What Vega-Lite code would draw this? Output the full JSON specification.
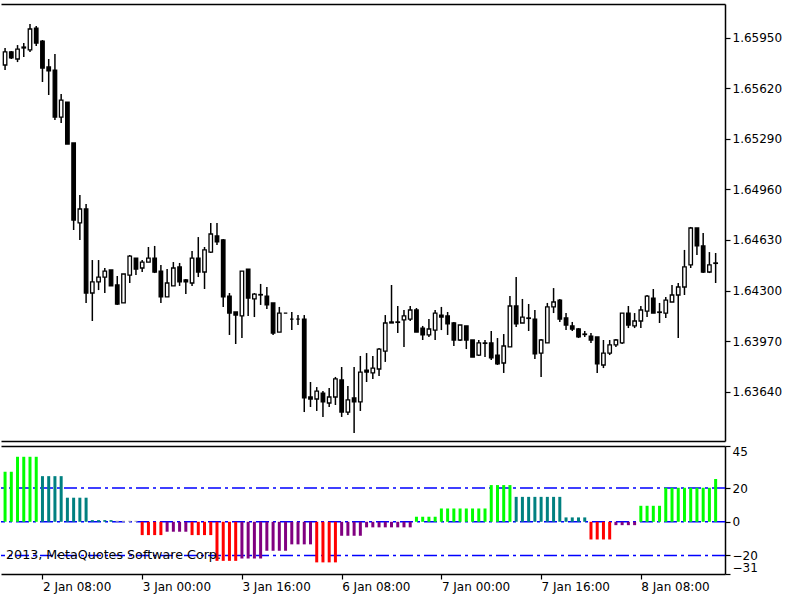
{
"$schema": "https://vega.github.io/schema/vega-lite/v6.json",
"padding": {"left": 0, "top": 4, "right": 5, "bottom": 4},
"background": "white",
"spacing": 4,
"config": {"view": {"stroke": null}, "font": "DejaVu Sans", "axis": {"grid": false, "title": null, "labelFont": "DejaVu Sans", "labelFontSize": 12, "labelColor": "#000", "tickColor": "#000", "domainColor": "#000", "domainWidth": 1.5, "tickWidth": 1.2, "labelOverlap": false}},
"datasets": {
"candles": [
{"i":-6,"o":1.65772,"h":1.65883,"l":1.65739,"c":1.65857},
{"i":-5,"o":1.65857,"h":1.65863,"l":1.65811,"c":1.65818},
{"i":-4,"o":1.65811,"h":1.65902,"l":1.65791,"c":1.65876},
{"i":-3,"o":1.65883,"h":1.65915,"l":1.65824,"c":1.65889},
{"i":-2,"o":1.65870,"h":1.66039,"l":1.65857,"c":1.66007},
{"i":-1,"o":1.66013,"h":1.66026,"l":1.65896,"c":1.65915},
{"i":0,"o":1.65928,"h":1.65935,"l":1.65661,"c":1.65752},
{"i":1,"o":1.65759,"h":1.65811,"l":1.65576,"c":1.65733},
{"i":2,"o":1.65739,"h":1.65844,"l":1.65413,"c":1.65432},
{"i":3,"o":1.65432,"h":1.65583,"l":1.65393,"c":1.65543},
{"i":4,"o":1.65530,"h":1.65530,"l":1.65256,"c":1.65256},
{"i":5,"o":1.65263,"h":1.65263,"l":1.64695,"c":1.64760},
{"i":6,"o":1.64741,"h":1.64923,"l":1.64630,"c":1.64832},
{"i":7,"o":1.64832,"h":1.64865,"l":1.64219,"c":1.64284},
{"i":8,"o":1.64284,"h":1.64499,"l":1.64101,"c":1.64356},
{"i":9,"o":1.64356,"h":1.64499,"l":1.64303,"c":1.64388},
{"i":10,"o":1.64388,"h":1.64447,"l":1.64284,"c":1.64427},
{"i":11,"o":1.64434,"h":1.64434,"l":1.64330,"c":1.64330},
{"i":12,"o":1.64336,"h":1.64395,"l":1.64206,"c":1.64212},
{"i":13,"o":1.64219,"h":1.64408,"l":1.64219,"c":1.64408},
{"i":14,"o":1.64401,"h":1.64532,"l":1.64349,"c":1.64525},
{"i":15,"o":1.64512,"h":1.64512,"l":1.64401,"c":1.64440},
{"i":16,"o":1.64447,"h":1.64499,"l":1.64421,"c":1.64486},
{"i":17,"o":1.64486,"h":1.64584,"l":1.64486,"c":1.64512},
{"i":18,"o":1.64512,"h":1.64591,"l":1.64414,"c":1.64421},
{"i":19,"o":1.64427,"h":1.64467,"l":1.64219,"c":1.64258},
{"i":20,"o":1.64258,"h":1.64440,"l":1.64258,"c":1.64349},
{"i":21,"o":1.64330,"h":1.64486,"l":1.64330,"c":1.64447},
{"i":22,"o":1.64454,"h":1.64480,"l":1.64330,"c":1.64356},
{"i":23,"o":1.64369,"h":1.64375,"l":1.64277,"c":1.64356},
{"i":24,"o":1.64349,"h":1.64558,"l":1.64330,"c":1.64512},
{"i":25,"o":1.64512,"h":1.64649,"l":1.64388,"c":1.64421},
{"i":26,"o":1.64421,"h":1.64584,"l":1.64310,"c":1.64565},
{"i":27,"o":1.64551,"h":1.64741,"l":1.64545,"c":1.64669},
{"i":28,"o":1.64656,"h":1.64741,"l":1.64597,"c":1.64617},
{"i":29,"o":1.64630,"h":1.64636,"l":1.64193,"c":1.64258},
{"i":30,"o":1.64264,"h":1.64284,"l":1.64010,"c":1.64153},
{"i":31,"o":1.64160,"h":1.64160,"l":1.63951,"c":1.64140},
{"i":32,"o":1.64134,"h":1.64427,"l":1.63990,"c":1.64427},
{"i":33,"o":1.64440,"h":1.64440,"l":1.64134,"c":1.64251},
{"i":34,"o":1.64245,"h":1.64284,"l":1.64127,"c":1.64277},
{"i":35,"o":1.64271,"h":1.64343,"l":1.64206,"c":1.64274},
{"i":36,"o":1.64264,"h":1.64323,"l":1.64180,"c":1.64206},
{"i":37,"o":1.64219,"h":1.64219,"l":1.64010,"c":1.64023},
{"i":38,"o":1.64029,"h":1.64193,"l":1.64029,"c":1.64153},
{"i":39,"o":1.64153,"h":1.64153,"l":1.64153,"c":1.64153},
{"i":40,"o":1.64114,"h":1.64160,"l":1.64042,"c":1.64114},
{"i":41,"o":1.64114,"h":1.64140,"l":1.64075,"c":1.64114},
{"i":42,"o":1.64114,"h":1.64140,"l":1.63507,"c":1.63599},
{"i":43,"o":1.63605,"h":1.63703,"l":1.63540,"c":1.63592},
{"i":44,"o":1.63592,"h":1.63670,"l":1.63514,"c":1.63644},
{"i":45,"o":1.63631,"h":1.63644,"l":1.63475,"c":1.63573},
{"i":46,"o":1.63566,"h":1.63664,"l":1.63540,"c":1.63605},
{"i":47,"o":1.63605,"h":1.63736,"l":1.63553,"c":1.63723},
{"i":48,"o":1.63716,"h":1.63801,"l":1.63475,"c":1.63507},
{"i":49,"o":1.63507,"h":1.63677,"l":1.63488,"c":1.63586},
{"i":50,"o":1.63599,"h":1.63801,"l":1.63370,"c":1.63573},
{"i":51,"o":1.63573,"h":1.63873,"l":1.63514,"c":1.63768},
{"i":52,"o":1.63781,"h":1.63892,"l":1.63703,"c":1.63768},
{"i":53,"o":1.63762,"h":1.63873,"l":1.63723,"c":1.63794},
{"i":54,"o":1.63788,"h":1.63925,"l":1.63742,"c":1.63918},
{"i":55,"o":1.63905,"h":1.64140,"l":1.63834,"c":1.64088},
{"i":56,"o":1.64095,"h":1.64336,"l":1.64088,"c":1.64088},
{"i":57,"o":1.64095,"h":1.64199,"l":1.64023,"c":1.64092},
{"i":58,"o":1.64108,"h":1.64173,"l":1.63932,"c":1.64134},
{"i":59,"o":1.64114,"h":1.64199,"l":1.64101,"c":1.64173},
{"i":60,"o":1.64173,"h":1.64186,"l":1.64029,"c":1.64029},
{"i":61,"o":1.64055,"h":1.64069,"l":1.63977,"c":1.64010},
{"i":62,"o":1.64010,"h":1.64114,"l":1.63997,"c":1.64049},
{"i":63,"o":1.64042,"h":1.64173,"l":1.63977,"c":1.64153},
{"i":64,"o":1.64140,"h":1.64193,"l":1.64042,"c":1.64127},
{"i":65,"o":1.64134,"h":1.64160,"l":1.64010,"c":1.64082},
{"i":66,"o":1.64088,"h":1.64095,"l":1.63938,"c":1.63977},
{"i":67,"o":1.63977,"h":1.64075,"l":1.63971,"c":1.64075},
{"i":68,"o":1.64069,"h":1.64069,"l":1.63918,"c":1.63977},
{"i":69,"o":1.63977,"h":1.63977,"l":1.63866,"c":1.63866},
{"i":70,"o":1.63879,"h":1.63977,"l":1.63873,"c":1.63958},
{"i":71,"o":1.63958,"h":1.63977,"l":1.63866,"c":1.63955},
{"i":72,"o":1.63958,"h":1.64036,"l":1.63847,"c":1.63860},
{"i":73,"o":1.63879,"h":1.63990,"l":1.63814,"c":1.63821},
{"i":74,"o":1.63827,"h":1.64016,"l":1.63762,"c":1.63938},
{"i":75,"o":1.63932,"h":1.64264,"l":1.63932,"c":1.64199},
{"i":76,"o":1.64199,"h":1.64388,"l":1.64062,"c":1.64082},
{"i":77,"o":1.64088,"h":1.64245,"l":1.64088,"c":1.64127},
{"i":78,"o":1.64121,"h":1.64212,"l":1.64036,"c":1.64118},
{"i":79,"o":1.64114,"h":1.64173,"l":1.63853,"c":1.63886},
{"i":80,"o":1.63892,"h":1.63984,"l":1.63736,"c":1.63977},
{"i":81,"o":1.63958,"h":1.64219,"l":1.63958,"c":1.64193},
{"i":82,"o":1.64193,"h":1.64316,"l":1.64153,"c":1.64225},
{"i":83,"o":1.64238,"h":1.64245,"l":1.64095,"c":1.64114},
{"i":84,"o":1.64121,"h":1.64153,"l":1.64042,"c":1.64075},
{"i":85,"o":1.64069,"h":1.64095,"l":1.64036,"c":1.64049},
{"i":86,"o":1.64049,"h":1.64055,"l":1.63990,"c":1.63997},
{"i":87,"o":1.64016,"h":1.64036,"l":1.63997,"c":1.64013},
{"i":88,"o":1.64003,"h":1.64023,"l":1.63958,"c":1.63977},
{"i":89,"o":1.63997,"h":1.63997,"l":1.63762,"c":1.63821},
{"i":90,"o":1.63814,"h":1.63977,"l":1.63794,"c":1.63892},
{"i":91,"o":1.63892,"h":1.63977,"l":1.63879,"c":1.63945},
{"i":92,"o":1.63945,"h":1.63984,"l":1.63932,"c":1.63977},
{"i":93,"o":1.63958,"h":1.64153,"l":1.63951,"c":1.64153},
{"i":94,"o":1.64153,"h":1.64199,"l":1.64055,"c":1.64075},
{"i":95,"o":1.64069,"h":1.64153,"l":1.64055,"c":1.64101},
{"i":96,"o":1.64101,"h":1.64199,"l":1.64055,"c":1.64173},
{"i":97,"o":1.64166,"h":1.64271,"l":1.64127,"c":1.64264},
{"i":98,"o":1.64251,"h":1.64310,"l":1.64153,"c":1.64153},
{"i":99,"o":1.64160,"h":1.64219,"l":1.64088,"c":1.64157},
{"i":100,"o":1.64153,"h":1.64258,"l":1.64121,"c":1.64238},
{"i":101,"o":1.64225,"h":1.64336,"l":1.64225,"c":1.64271},
{"i":102,"o":1.64271,"h":1.64349,"l":1.63990,"c":1.64323},
{"i":103,"o":1.64323,"h":1.64565,"l":1.64271,"c":1.64454},
{"i":104,"o":1.64467,"h":1.64715,"l":1.64447,"c":1.64708},
{"i":105,"o":1.64708,"h":1.64708,"l":1.64532,"c":1.64591},
{"i":106,"o":1.64591,"h":1.64675,"l":1.64414,"c":1.64421},
{"i":107,"o":1.64421,"h":1.64551,"l":1.64414,"c":1.64467},
{"i":108,"o":1.64480,"h":1.64545,"l":1.64349,"c":1.64477}
],
"osc": [
{"i":-6,"v":29.7,"col":"green"},{"i":-5,"v":29.7,"col":"green"},
{"i":-4,"v":38.6,"col":"green"},{"i":-3,"v":38.6,"col":"green"},{"i":-2,"v":38.6,"col":"green"},{"i":-1,"v":38.6,"col":"green"},
{"i":0,"v":27.1,"col":"teal"},{"i":1,"v":27.1,"col":"teal"},{"i":2,"v":27.1,"col":"teal"},{"i":3,"v":27.1,"col":"teal"},
{"i":4,"v":14.3,"col":"teal"},{"i":5,"v":14.3,"col":"teal"},{"i":6,"v":14.3,"col":"teal"},{"i":7,"v":14.3,"col":"teal"},
{"i":8,"v":1.0,"col":"teal"},{"i":9,"v":1.0,"col":"teal"},{"i":10,"v":1.0,"col":"teal"},{"i":11,"v":1.0,"col":"teal"},
{"i":12,"v":0.6,"col":"gray"},{"i":13,"v":0.6,"col":"gray"},{"i":14,"v":0.6,"col":"gray"},{"i":15,"v":0.6,"col":"gray"},
{"i":16,"v":-7.9,"col":"red"},{"i":17,"v":-7.9,"col":"red"},{"i":18,"v":-7.9,"col":"red"},{"i":19,"v":-7.9,"col":"red"},
{"i":20,"v":-5.9,"col":"purple"},{"i":21,"v":-5.9,"col":"purple"},{"i":22,"v":-5.9,"col":"purple"},{"i":23,"v":-5.9,"col":"purple"},
{"i":24,"v":-7.9,"col":"red"},{"i":25,"v":-7.9,"col":"red"},{"i":26,"v":-7.9,"col":"red"},{"i":27,"v":-7.9,"col":"red"},
{"i":28,"v":-23.2,"col":"red"},{"i":29,"v":-23.2,"col":"red"},{"i":30,"v":-23.2,"col":"red"},{"i":31,"v":-23.2,"col":"red"},
{"i":32,"v":-21.8,"col":"purple"},{"i":33,"v":-21.8,"col":"purple"},{"i":34,"v":-21.8,"col":"purple"},{"i":35,"v":-21.8,"col":"purple"},
{"i":36,"v":-17.2,"col":"purple"},{"i":37,"v":-17.2,"col":"purple"},{"i":38,"v":-17.2,"col":"purple"},{"i":39,"v":-17.2,"col":"purple"},
{"i":40,"v":-13.4,"col":"purple"},{"i":41,"v":-13.4,"col":"purple"},{"i":42,"v":-13.4,"col":"purple"},{"i":43,"v":-13.4,"col":"purple"},
{"i":44,"v":-24.1,"col":"red"},{"i":45,"v":-24.1,"col":"red"},{"i":46,"v":-24.1,"col":"red"},{"i":47,"v":-24.1,"col":"red"},
{"i":48,"v":-8.3,"col":"purple"},{"i":49,"v":-8.3,"col":"purple"},{"i":50,"v":-8.3,"col":"purple"},{"i":51,"v":-8.3,"col":"purple"},
{"i":52,"v":-3.3,"col":"purple"},{"i":53,"v":-3.3,"col":"purple"},{"i":54,"v":-3.3,"col":"purple"},{"i":55,"v":-3.3,"col":"purple"},
{"i":56,"v":-3.3,"col":"purple"},{"i":57,"v":-3.3,"col":"purple"},{"i":58,"v":-3.3,"col":"purple"},{"i":59,"v":-3.3,"col":"purple"},
{"i":60,"v":3.0,"col":"green"},{"i":61,"v":3.0,"col":"green"},{"i":62,"v":3.0,"col":"green"},{"i":63,"v":3.0,"col":"green"},
{"i":64,"v":7.9,"col":"green"},{"i":65,"v":7.9,"col":"green"},{"i":66,"v":7.9,"col":"green"},{"i":67,"v":7.9,"col":"green"},
{"i":68,"v":7.9,"col":"green"},{"i":69,"v":7.9,"col":"green"},{"i":70,"v":7.9,"col":"green"},{"i":71,"v":7.9,"col":"green"},
{"i":72,"v":21.8,"col":"green"},{"i":73,"v":21.8,"col":"green"},{"i":74,"v":21.8,"col":"green"},{"i":75,"v":21.8,"col":"green"},
{"i":76,"v":14.8,"col":"teal"},{"i":77,"v":14.8,"col":"teal"},{"i":78,"v":14.8,"col":"teal"},{"i":79,"v":14.8,"col":"teal"},
{"i":80,"v":14.8,"col":"teal"},{"i":81,"v":14.8,"col":"teal"},{"i":82,"v":14.8,"col":"teal"},{"i":83,"v":14.8,"col":"teal"},
{"i":84,"v":2.6,"col":"teal"},{"i":85,"v":2.6,"col":"teal"},{"i":86,"v":2.6,"col":"teal"},{"i":87,"v":2.6,"col":"teal"},
{"i":88,"v":-10.5,"col":"red"},{"i":89,"v":-10.5,"col":"red"},{"i":90,"v":-10.5,"col":"red"},{"i":91,"v":-10.5,"col":"red"},
{"i":92,"v":-2.0,"col":"purple"},{"i":93,"v":-2.0,"col":"purple"},{"i":94,"v":-2.0,"col":"purple"},{"i":95,"v":-2.0,"col":"purple"},
{"i":96,"v":9.5,"col":"green"},{"i":97,"v":9.5,"col":"green"},{"i":98,"v":9.5,"col":"green"},{"i":99,"v":9.5,"col":"green"},
{"i":100,"v":20.2,"col":"green"},{"i":101,"v":20.2,"col":"green"},{"i":102,"v":20.2,"col":"green"},{"i":103,"v":20.2,"col":"green"},
{"i":104,"v":20.2,"col":"green"},{"i":105,"v":20.2,"col":"green"},{"i":106,"v":20.2,"col":"green"},{"i":107,"v":20.2,"col":"green"},
{"i":108,"v":25.4,"col":"green"}
],
"levels": [{"lv": 20}, {"lv": 0}, {"lv": -20}]
},
"vconcat": [
{
"width": 724, "height": 437,
"data": {"name": "candles"},
"resolve": {"axis": {"x": "independent"}},
"layer": [
{"mark": {"type": "rule", "color": "#000", "strokeWidth": 1.5, "clip": true},
 "encoding": {
  "x": {"field": "i", "type": "quantitative", "scale": {"domain": [-5.85, 108.7], "nice": false, "zero": false}, "axis": {"orient": "top", "labels": false, "ticks": false}},
  "y": {"field": "l", "type": "quantitative", "scale": {"domain": [1.63318, 1.6617], "nice": false, "zero": false},
        "axis": {"orient": "right", "values": [1.6595, 1.6562, 1.6529, 1.6496, 1.6463, 1.643, 1.6397, 1.6364], "format": ".5f", "tickSize": 5, "labelPadding": 2}},
  "y2": {"field": "h"}}},
{"mark": {"type": "bar", "orient": "vertical", "size": 3.5, "stroke": "#000", "strokeWidth": 1.3, "clip": true},
 "encoding": {
  "x": {"field": "i", "type": "quantitative", "axis": {"orient": "bottom", "labels": false, "ticks": false}},
  "y": {"field": "o", "type": "quantitative"},
  "y2": {"field": "c"},
  "fill": {"condition": {"test": "datum.c > datum.o", "value": "#ffffff"}, "value": "#000000"}}}
]
},
{
"width": 724, "height": 128,
"resolve": {"axis": {"x": "independent"}},
"layer": [
{"data": {"name": "levels"},
 "mark": {"type": "rule", "color": "#0000FF", "strokeWidth": 1.5, "strokeDash": [13, 4, 3, 4]},
 "encoding": {
  "y": {"field": "lv", "type": "quantitative", "scale": {"domain": [-31, 45], "nice": false, "zero": false},
        "axis": {"orient": "right", "values": [45, 20, 0, -20, -31], "labelFlush": true, "labelOverlap": false, "labelBound": false, "tickSize": 5, "labelPadding": 2}}}},
{"data": {"name": "osc"},
 "mark": {"type": "bar", "orient": "vertical", "size": 3, "clip": true},
 "encoding": {
  "x": {"field": "i", "type": "quantitative", "scale": {"domain": [-5.85, 108.7], "nice": false, "zero": false},
        "axis": {"orient": "bottom", "values": [0, 16, 32, 48, 64, 80, 96], "labelExpr": "['2 Jan 08:00','3 Jan 00:00','3 Jan 16:00','6 Jan 08:00','7 Jan 00:00','7 Jan 16:00','8 Jan 08:00'][round(datum.value/16)]", "labelAlign": "left", "labelFlush": false, "labelOverlap": false, "labelBound": false, "tickSize": 5, "labelPadding": 2}},
  "y": {"field": "v", "type": "quantitative", "stack": null,
        "axis": {"orient": "right", "values": [45, 20, 0, -20, -31], "labelFlush": true, "labelOverlap": false, "labelBound": false, "tickSize": 5, "labelPadding": 2}},
  "y2": {"datum": 0},
  "color": {"field": "col", "type": "nominal", "legend": null,
            "scale": {"domain": ["green", "teal", "red", "purple", "gray"], "range": ["#00FF00", "#008080", "#FF0000", "#800080", "#A8A8A8"]}}}},
{"data": {"values": [{}]},
 "mark": {"type": "text", "align": "left", "baseline": "middle", "fontSize": 12.7, "font": "DejaVu Sans", "color": "#000", "clip": true},
 "encoding": {
  "x": {"datum": -5.85, "type": "quantitative", "axis": {"orient": "top", "labels": false, "ticks": false}},
  "y": {"datum": -19.5, "type": "quantitative",
        "axis": {"orient": "right", "values": [45, 20, 0, -20, -31], "labelFlush": true, "labelOverlap": false, "labelBound": false, "tickSize": 5, "labelPadding": 2}},
  "text": {"value": "2013, MetaQuotes Software Corp."}}}
]
}
]
}
